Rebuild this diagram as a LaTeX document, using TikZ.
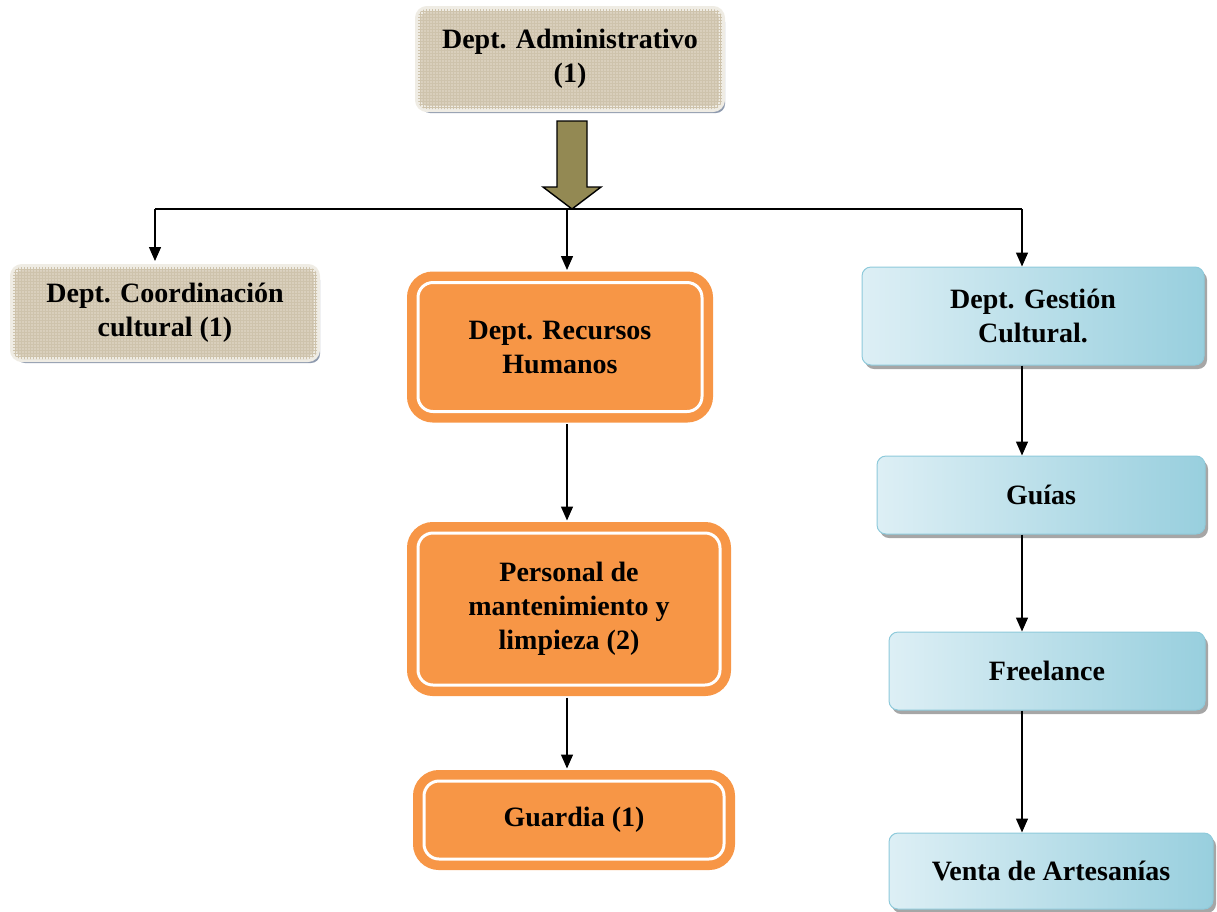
\documentclass[tikz,border=0pt]{standalone}
\usepackage{fontspec}
\setmainfont{Liberation Serif}
\usetikzlibrary{shadows,arrows.meta,patterns}
\definecolor{beige}{HTML}{D9CFBC}
\definecolor{beigedark}{HTML}{CEC3AC}
\definecolor{beigerim}{HTML}{EFECE4}
\definecolor{shadowc}{HTML}{8E9AAE}
\definecolor{orangeF}{HTML}{F79646}
\definecolor{blueL}{HTML}{DDEFF5}
\definecolor{blueD}{HTML}{98CFDE}
\definecolor{blueB}{HTML}{8ECADB}
\definecolor{olive}{HTML}{938953}
\begin{document}
\begin{tikzpicture}[x=1pt,y=-1pt,
  txt/.style={font=\fontsize{28}{34}\selectfont\bfseries, align=center, text=black},
  beigebox/.style={txt, rounded corners=9pt, fill=beige, draw=beigerim, line width=6pt,
     drop shadow={shadow xshift=3pt, shadow yshift=-4pt, fill=shadowc, opacity=1},
     postaction={pattern=grid, pattern color=beigedark}},
  orangebox/.style={txt, rounded corners=15pt, fill=orangeF, draw=white, line width=3pt,
     preaction={draw=orangeF, line width=22pt}},
  bluebox/.style={txt, rounded corners=9pt, left color=blueL, right color=blueD, draw=blueB, line width=1pt,
     drop shadow={shadow xshift=3pt, shadow yshift=-4pt, fill=gray!70, opacity=1}},
  conn/.style={line width=1.4pt, draw=black},
  arr/.style={conn, -{Triangle[length=14pt,width=12pt]}}
]
\useasboundingbox (0,0) rectangle (1217,911);

% nodes
\node[beigebox, minimum width=304pt, minimum height=100pt] (adm) at (570,59) {Dept. Administrativo\\(1)};
\node[beigebox, minimum width=304pt, minimum height=92pt] (coo) at (165,313) {Dept. Coordinación\\cultural (1)};
\node[orangebox, minimum width=284pt, minimum height=129pt] (rrh) at (560,347) {Dept. Recursos\\Humanos};
\node[orangebox, minimum width=302pt, minimum height=152pt] (per) at (569,609) {Personal de\\mantenimiento y\\limpieza (2)};
\node[orangebox, minimum width=300pt, minimum height=78pt] (gua) at (574,820) {Guardia (1)};
\node[bluebox, minimum width=342pt, minimum height=98pt] (ges) at (1033,316) {Dept. Gestión\\Cultural.};
\node[bluebox, minimum width=328pt, minimum height=78pt] (gui) at (1041,495) {Guías};
\node[bluebox, minimum width=316pt, minimum height=78pt] (fre) at (1047,671) {Freelance};
\node[bluebox, minimum width=324pt, minimum height=76pt] (ven) at (1051,871) {Venta de Artesanías};

% big arrow
\coordinate (tip) at (572,209);
\draw[fill=olive, line width=1.4pt, line join=miter]
  (557,121) -- (587,121) -- (587,187) -- (601,187) -- (tip) -- (543,187) -- (557,187) -- cycle;

% distribution line
\coordinate (hl) at (155,209);
\coordinate (hm) at (567,209);
\coordinate (hr) at (1022,209);
\draw[conn] (hl) -- (hr);
\draw[arr] (hl) -- ([yshift=3pt]hl |- coo.north);
\draw[arr] (hm) -- ([yshift=11pt]hm |- rrh.north);
\draw[arr] (hr) -- (hr |- ges.north);

% vertical chains
\draw[arr] ([yshift=-11pt]rrh.south -| hm) -- ([yshift=11pt]per.north -| hm);
\draw[arr] ([yshift=-11pt]per.south -| hm) -- ([yshift=11pt]gua.north -| hm);
\draw[arr] (ges.south -| hr) -- (gui.north -| hr);
\draw[arr] (gui.south -| hr) -- (fre.north -| hr);
\draw[arr] (fre.south -| hr) -- (ven.north -| hr);
\end{tikzpicture}
\end{document}
